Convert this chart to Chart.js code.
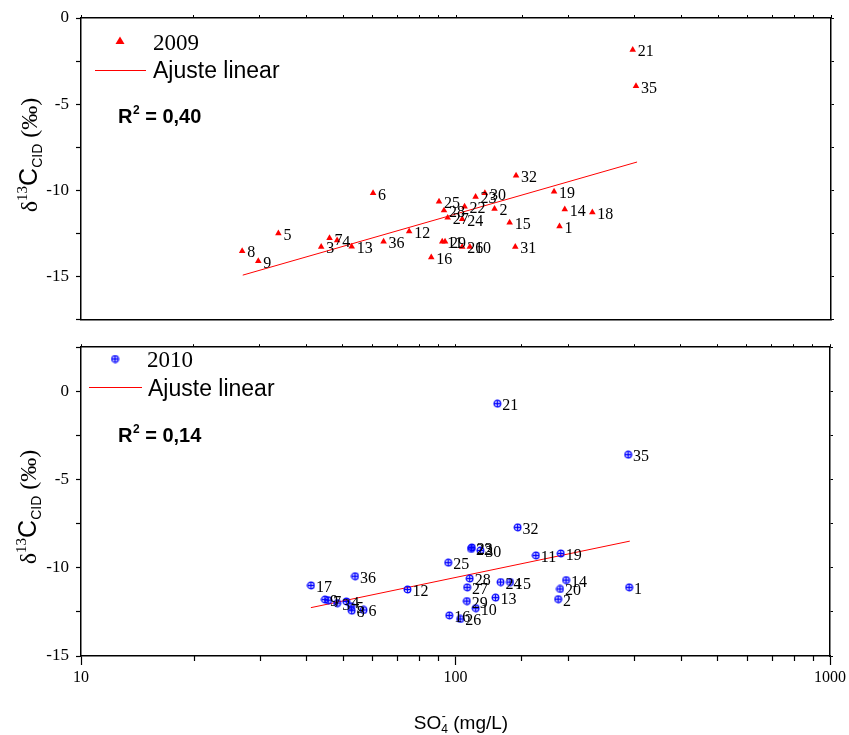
<!DOCTYPE html>
<html>
<head>
<meta charset="utf-8">
<title>d13C x SO4</title>
<script src="https://cdn.jsdelivr.net/npm/chart.js@4.4.1/dist/chart.umd.min.js"></script>
<style>
  body { margin: 0; background: #fff; }
  #wrap { position: relative; width: 849px; height: 735px; }
  #graf2009 { position: absolute; left: 0; top: 0; }
  #graf2010 { position: absolute; left: 0; top: 330px; }
</style>
</head>
<body>
<div id="wrap">
  <canvas id="graf2009" width="849" height="337"></canvas>
  <canvas id="graf2010" width="849" height="405"></canvas>
</div>
<script>
// ---- dados 2009 (numero do ponto, SO4 mg/L, d13C) ----
const ids2009  = [8, 9, 5, 3, 7, 4, 13, 6, 36, 12, 25, 28, 27, 22, 24, 23, 30, 2, 32, 15, 19, 14, 18, 1, 11, 29, 16, 26, 10, 31, 21, 35];
const so4_2009 = [26.9, 29.7, 33.6, 43.7, 46.0, 48.2, 52.7, 60.1, 64.1, 75.0, 90.1, 92.9, 95.0, 105.4, 103.9, 112.8, 119.4, 126.7, 144.6, 139.0, 182.6, 195.0, 231, 188.8, 91.9, 93.5, 85.9, 103.9, 108.9, 143.9, 296, 302];
const d13c_2009 = [-13.51, -14.10, -12.48, -13.27, -12.76, -12.89, -13.25, -10.15, -12.96, -12.37, -10.65, -11.16, -11.58, -10.94, -11.66, -10.37, -10.15, -11.07, -9.14, -11.86, -10.06, -11.09, -11.27, -12.08, -12.96, -12.96, -13.88, -13.27, -13.27, -13.27, -1.84, -3.95];
const ajuste2009X = [27.0, 304];
const ajuste2009Y = [-14.91, -8.35];

// ---- dados 2010 ----
const ids2010  = [17, 9, 7, 3, 4, 5, 8, 6, 36, 12, 25, 22, 23, 30, 32, 21, 35, 11, 19, 28, 27, 24, 15, 13, 29, 10, 16, 26, 14, 20, 2, 1];
const so4_2010 = [41.1, 44.8, 45.7, 48.3, 51.1, 52.6, 52.8, 56.8, 53.9, 74.4, 95.6, 110.0, 110.5, 116.5, 146.5, 129.3, 289, 163.9, 191.0, 109.1, 107.4, 131.9, 139.8, 127.8, 107.2, 113.2, 96.2, 102.9, 197.3, 190.1, 187.9, 290.8];
const d13c_2010 = [-11.00, -11.80, -11.84, -12.00, -11.91, -12.18, -12.43, -12.39, -10.48, -11.23, -9.71, -8.93, -8.85, -9.02, -7.71, -0.70, -3.59, -9.30, -9.19, -10.61, -11.11, -10.81, -10.81, -11.69, -11.89, -12.29, -12.70, -12.90, -10.70, -11.20, -11.78, -11.11];
const ajuste2010X = [41.1, 292];
const ajuste2010Y = [-12.26, -8.49];

// rotulos dos eixos
const ticksX = [10, 100, 1000];
const ticksY = [0, -5, -10, -15];

const SERIF = '"Liberation Serif", "Times New Roman", serif';
const SANS = '"Liberation Sans", Arial, sans-serif';

function pontos(xs, ys) {
  return xs.map((x, i) => ({ x: x, y: ys[i] }));
}

function ehDecada(v) {
  return ticksX.some(t => Math.abs(t - v) < 1e-6);
}

// marcador circulo com cruz (2010)
function marcaCirculoCruz() {
  const c = document.createElement('canvas');
  c.width = 9; c.height = 9;
  const g = c.getContext('2d');
  g.strokeStyle = '#0000ff';
  g.lineWidth = 1.3;
  g.beginPath(); g.arc(4.5, 4.5, 3.3, 0, Math.PI * 2); g.stroke();
  g.beginPath();
  g.moveTo(1.2, 4.5); g.lineTo(7.8, 4.5);
  g.moveTo(4.5, 1.2); g.lineTo(4.5, 7.8);
  g.stroke();
  return c;
}
const circuloCruz = marcaCirculoCruz();

// numeros ao lado de cada ponto
const rotulosPontos = {
  id: 'rotulosPontos',
  afterDatasetsDraw(chart) {
    const ctx = chart.ctx;
    ctx.save();
    ctx.font = '16px ' + SERIF;
    ctx.fillStyle = '#000';
    ctx.textBaseline = 'alphabetic';
    chart.data.datasets.forEach((ds, i) => {
      if (!ds.ids) return;
      chart.getDatasetMeta(i).data.forEach((pt, j) => {
        ctx.fillText(String(ds.ids[j]), pt.x + 5, pt.y + 6.5);
      });
    });
    ctx.restore();
  }
};

// ticks menores do eixo x de baixo (mais curtos)
const ticksMenores = {
  id: 'ticksMenores',
  afterDraw(chart) {
    const sc = chart.scales.x;
    const ctx = chart.ctx;
    const y0 = chart.chartArea.bottom;
    ctx.save();
    ctx.strokeStyle = '#000';
    ctx.lineWidth = 1.2;
    sc.ticks.forEach(t => {
      if (ehDecada(t.value)) return;
      const px = Math.round(sc.getPixelForValue(t.value)) + 0.5;
      ctx.beginPath();
      ctx.moveTo(px, y0);
      ctx.lineTo(px, y0 + 5);
      ctx.stroke();
    });
    ctx.restore();
  }
};

function tituloY(ctx, bx, cy) {
  const partes = [
    { t: '\u03b4', f: '24px ' + SERIF, dy: 0 },
    { t: '13', f: '15px ' + SERIF, dy: -10 },
    { t: 'C', f: '25px ' + SANS, dy: 0 },
    { t: 'CID', f: '14px ' + SANS, dy: 5 },
    { t: ' (\u2030)', f: '24px ' + SERIF, dy: 0 }
  ];
  let total = 0;
  partes.forEach(p => { ctx.font = p.f; p.w = ctx.measureText(p.t).width; total += p.w; });
  ctx.save();
  ctx.translate(bx, cy);
  ctx.rotate(-Math.PI / 2);
  ctx.fillStyle = '#000';
  let x = -total / 2;
  partes.forEach(p => {
    ctx.font = p.f;
    ctx.fillText(p.t, x, p.dy);
    x += p.w;
  });
  ctx.restore();
}

function textoR2(ctx, x, y, valor) {
  ctx.save();
  ctx.fillStyle = '#000';
  ctx.font = 'bold 20px ' + SANS;
  ctx.fillText('R', x, y);
  let w = ctx.measureText('R').width;
  ctx.font = 'bold 12px ' + SANS;
  ctx.fillText('2', x + w + 0.5, y - 9);
  w += ctx.measureText('2').width + 0.5;
  ctx.font = 'bold 20px ' + SANS;
  ctx.fillText(' = ' + valor, x + w, y);
  ctx.restore();
}

// legenda, R2 e titulos
const decoracao = {
  id: 'decoracao',
  afterDraw(chart, args, o) {
    const ctx = chart.ctx;
    ctx.save();
    // marcador da legenda
    if (o.marca === 'triangulo') {
      ctx.fillStyle = '#ff0000';
      ctx.beginPath();
      ctx.moveTo(o.mx, o.my - 4.5);
      ctx.lineTo(o.mx + 4.5, o.my + 3);
      ctx.lineTo(o.mx - 4.5, o.my + 3);
      ctx.closePath();
      ctx.fill();
    } else {
      ctx.drawImage(circuloCruz, o.mx - 4.5, o.my - 4.5);
    }
    ctx.fillStyle = '#000';
    ctx.font = '23px ' + SERIF;
    ctx.fillText(o.ano, o.anoX, o.anoY);
    // linha do ajuste
    ctx.strokeStyle = '#ff0000';
    ctx.lineWidth = 1;
    ctx.beginPath();
    ctx.moveTo(o.lx1, o.ly);
    ctx.lineTo(o.lx2, o.ly);
    ctx.stroke();
    ctx.font = '23px ' + SANS;
    ctx.fillText('Ajuste linear', o.ajX, o.ajY);
    ctx.restore();

    textoR2(ctx, o.r2X, o.r2Y, o.r2);
    tituloY(ctx, o.tyX, o.tyY);

    if (o.tituloX) {
      ctx.save();
      ctx.fillStyle = '#000';
      const f = '19px ' + SANS;
      ctx.font = f;
      const wSO = ctx.measureText('SO').width;
      ctx.font = '12px ' + SANS;
      const wSub = ctx.measureText('4').width;
      ctx.font = f;
      const wResto = ctx.measureText(' (mg/L)').width;
      let x = o.txX - (wSO + wSub + wResto) / 2;
      ctx.fillText('SO', x, o.txY);
      x += wSO;
      ctx.font = '12px ' + SANS;
      ctx.fillText('-', x + 0.5, o.txY - 9);
      ctx.fillText('4', x, o.txY + 4);
      x += wSub;
      ctx.font = f;
      ctx.fillText(' (mg/L)', x, o.txY);
      ctx.restore();
    }
  }
};

function eixosBase(yMin, yMax, alturaTopo, alturaBaixo, rotulosX) {
  const borda = { display: true, color: '#000', width: 1.5 };
  return {
    x: {
      type: 'logarithmic', position: 'bottom', min: 10, max: 1000,
      border: borda,
      grid: {
        drawOnChartArea: false,
        drawTicks: rotulosX,
        tickLength: 9,
        tickWidth: 1.2,
        tickColor: ctx => (ctx.tick && ehDecada(ctx.tick.value)) ? '#000' : 'rgba(0,0,0,0)'
      },
      ticks: {
        display: rotulosX,
        autoSkip: false,
        maxRotation: 0,
        padding: 3,
        color: '#000',
        font: { family: 'Liberation Serif', size: 16 },
        callback: v => ehDecada(v) ? String(Math.round(v)) : ''
      },
      afterFit: s => { s.height = alturaBaixo; }
    },
    xTopo: {
      type: 'logarithmic', position: 'top', min: 10, max: 1000,
      border: borda,
      grid: { drawOnChartArea: false, tickLength: 3, tickColor: '#000', tickWidth: 1 },
      ticks: { display: false, autoSkip: false },
      afterFit: s => { s.height = alturaTopo; }
    },
    y: {
      type: 'linear', position: 'left', min: yMin, max: yMax,
      border: borda,
      grid: { drawOnChartArea: false, tickLength: 5, tickColor: '#000', tickWidth: 1.2 },
      ticks: {
        stepSize: 2.5,
        padding: 7,
        color: '#000',
        font: { family: 'Liberation Serif', size: 17 },
        callback: v => ticksY.some(t => Math.abs(t - v) < 1e-6) ? String(v) : ''
      },
      afterFit: s => { s.width = 81; }
    },
    yDir: {
      type: 'linear', position: 'right', min: yMin, max: yMax,
      border: borda,
      grid: { drawOnChartArea: false, tickLength: 3, tickColor: '#000', tickWidth: 1 },
      ticks: { display: false, stepSize: 2.5 },
      afterFit: s => { s.width = 18; }
    }
  };
}

// ---- grafico 2009 (painel de cima) ----
new Chart(document.getElementById('graf2009'), {
  type: 'scatter',
  data: {
    datasets: [
      {
        label: '2009',
        ids: ids2009,
        data: pontos(so4_2009, d13c_2009),
        pointStyle: 'triangle',
        pointRadius: 3.8,
        backgroundColor: '#ff0000',
        borderColor: '#ff0000',
        borderWidth: 0
      },
      {
        label: 'Ajuste linear',
        data: pontos(ajuste2009X, ajuste2009Y),
        showLine: true,
        pointRadius: 0,
        borderColor: '#ff0000',
        borderWidth: 1
      }
    ]
  },
  options: {
    responsive: false,
    animation: false,
    events: [],
    devicePixelRatio: 1,
    layout: { padding: 0 },
    scales: eixosBase(-17.5, 0, 18, 1, false),
    plugins: {
      legend: { display: false },
      tooltip: { enabled: false },
      decoracao: {
        marca: 'triangulo', mx: 120, my: 41,
        ano: '2009', anoX: 153, anoY: 49.5,
        lx1: 95, lx2: 146, ly: 70.5,
        ajX: 153, ajY: 77.5,
        r2: '0,40', r2X: 118, r2Y: 123,
        tyX: 37, tyY: 155
      }
    }
  },
  plugins: [rotulosPontos, decoracao]
});

// ---- grafico 2010 (painel de baixo) ----
new Chart(document.getElementById('graf2010'), {
  type: 'scatter',
  data: {
    datasets: [
      {
        label: '2010',
        ids: ids2010,
        data: pontos(so4_2010, d13c_2010),
        pointStyle: circuloCruz,
        pointRadius: 4,
        backgroundColor: '#0000ff',
        borderColor: '#0000ff'
      },
      {
        label: 'Ajuste linear',
        data: pontos(ajuste2010X, ajuste2010Y),
        showLine: true,
        pointRadius: 0,
        borderColor: '#ff0000',
        borderWidth: 1
      }
    ]
  },
  options: {
    responsive: false,
    animation: false,
    events: [],
    devicePixelRatio: 1,
    layout: { padding: 0 },
    scales: eixosBase(-15, 2.5, 6, 79, true),
    plugins: {
      legend: { display: false },
      tooltip: { enabled: false },
      decoracao: {
        marca: 'circulo', mx: 115, my: 29,
        ano: '2010', anoX: 147, anoY: 37.3,
        lx1: 89, lx2: 142, ly: 57.5,
        ajX: 148, ajY: 66,
        r2: '0,14', r2X: 118, r2Y: 111.7,
        tyX: 36, tyY: 177,
        tituloX: true, txX: 461, txY: 399
      }
    }
  },
  plugins: [rotulosPontos, ticksMenores, decoracao]
});
</script>
</body>
</html>
